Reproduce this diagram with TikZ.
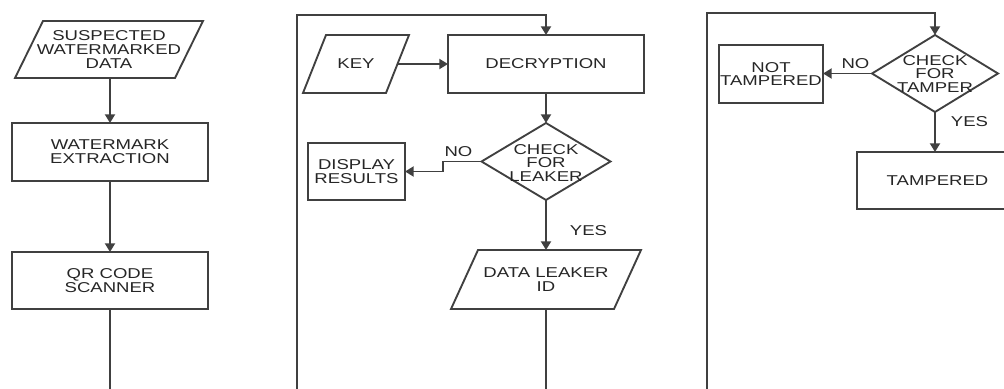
\documentclass[tikz,border=0pt]{standalone}
\usepackage{fontspec}
\setmainfont[FakeStretch=1.3]{Liberation Sans}
\usetikzlibrary{arrows.meta,shapes.geometric}
\newcommand\paraframe[2]{\draw[ln,line join=miter] ([xshift=#2/2]#1.north west) -- ([xshift=#2/2]#1.north east) -- ([xshift=-#2/2]#1.south east) -- ([xshift=-#2/2]#1.south west) -- cycle;}
\begin{document}
\begin{tikzpicture}[x=0.75pt,y=-0.75pt,
 ln/.style={line width=1.4pt,draw=black!75},
 arr/.style={ln,-{Triangle[width=7.5pt,length=6.5pt]}},
 txt/.style={font=\fontsize{10.7}{10.4}\selectfont,text=black!85,align=center},
 boxnode/.style={txt,draw=black!75,line width=1.4pt,rectangle,inner sep=0pt,outer sep=0pt},
 paranode/.style={txt,rectangle,inner sep=0pt,outer sep=0pt},
 dianode/.style={diamond,draw=black!75,line width=1.4pt,inner sep=0pt,outer sep=0pt}]
\useasboundingbox (0,0) rectangle (1004,389);
\clip (0,0) rectangle (1004,389);
\fill[white] (0,0) rectangle (1004,389);

% ---- panel 1
\node[paranode,minimum width=120pt,minimum height=42.75pt] (sus) at (109,49.5) {SUSPECTED\\WATERMARKED\\DATA};
\paraframe{sus}{21pt}
\node[boxnode,minimum width=147pt,minimum height=43.5pt] (wex) at (110,152) {WATERMARK\\EXTRACTION};
\node[boxnode,minimum width=147pt,minimum height=42.75pt] (qr) at (110,280.5) {QR CODE\\SCANNER};
\coordinate (e1) at (110,395);
\draw[arr] (sus.south -| wex.north) -- (wex.north);
\draw[arr] (wex.south) -- (qr.north);
\draw[ln] (qr.south) -- (e1);

% ---- panel 2
\node[paranode,minimum width=62.25pt,minimum height=43.5pt] (key) at (356,64) {KEY};
\paraframe{key}{17.25pt}
\node[boxnode,minimum width=147pt,minimum height=43.5pt] (dec) at (546,64) {DECRYPTION};
\node[dianode,minimum width=96.75pt,minimum height=57.75pt] (chk) at (546,161.5) {};
\node[txt] (chkt) at (546,163) {CHECK\\FOR\\LEAKER};
\node[boxnode,minimum width=72.75pt,minimum height=42.75pt] (disp) at (356.5,171.5) {DISPLAY\\RESULTS};
\node[paranode,minimum width=122.25pt,minimum height=44.25pt] (leak) at (546,279.5) {DATA LEAKER\\ID};
\paraframe{leak}{20.25pt}
\coordinate (p2b) at (297,395);
\coordinate (p2t) at (546,15);
\coordinate (e2) at (546,395);
\draw[arr] (p2b) |- (p2t) -- (dec.north);
\draw[arr] (key.east) -- (dec.west);
\draw[arr] (dec.south) -- (chk.north);
\draw[arr] (chk.west) -- ++(-38.5,0) |- (disp.east);
\draw[arr] (chk.south) -- (leak.north);
\draw[ln] (leak.south) -- (e2);
\node[txt] (no1) at (458.5,151.5) {NO};
\node[txt] (yes1) at (588.5,231) {YES};

% ---- panel 3
\node[dianode,minimum width=94.5pt,minimum height=57.75pt] (tmp) at (935,73.5) {};
\node[txt] (tmpt) at (935,74) {CHECK\\FOR\\TAMPER};
\node[boxnode,minimum width=78pt,minimum height=43.5pt] (nt) at (771,74) {NOT\\TAMPERED};
\node[paranode,minimum width=120.75pt,minimum height=42.75pt] (tpd) at (937.5,180.5) {TAMPERED};
\draw[ln] ([xshift=20pt]tpd.north east) -- (tpd.north west) -- (tpd.south west) -- ([xshift=20pt]tpd.south east);
\coordinate (p3b) at (707,395);
\coordinate (p3t) at (935,13);
\draw[arr] (p3b) |- (p3t) -- (tmp.north);
\draw[arr] (tmp.west) -- (tmp.west -| nt.east);
\draw[arr] (tmp.south) -- (tmp.south |- tpd.north);
\node[txt] (no2) at (855.5,64) {NO};
\node[txt] (yes2) at (969.5,122) {YES};
\end{tikzpicture}
\end{document}
